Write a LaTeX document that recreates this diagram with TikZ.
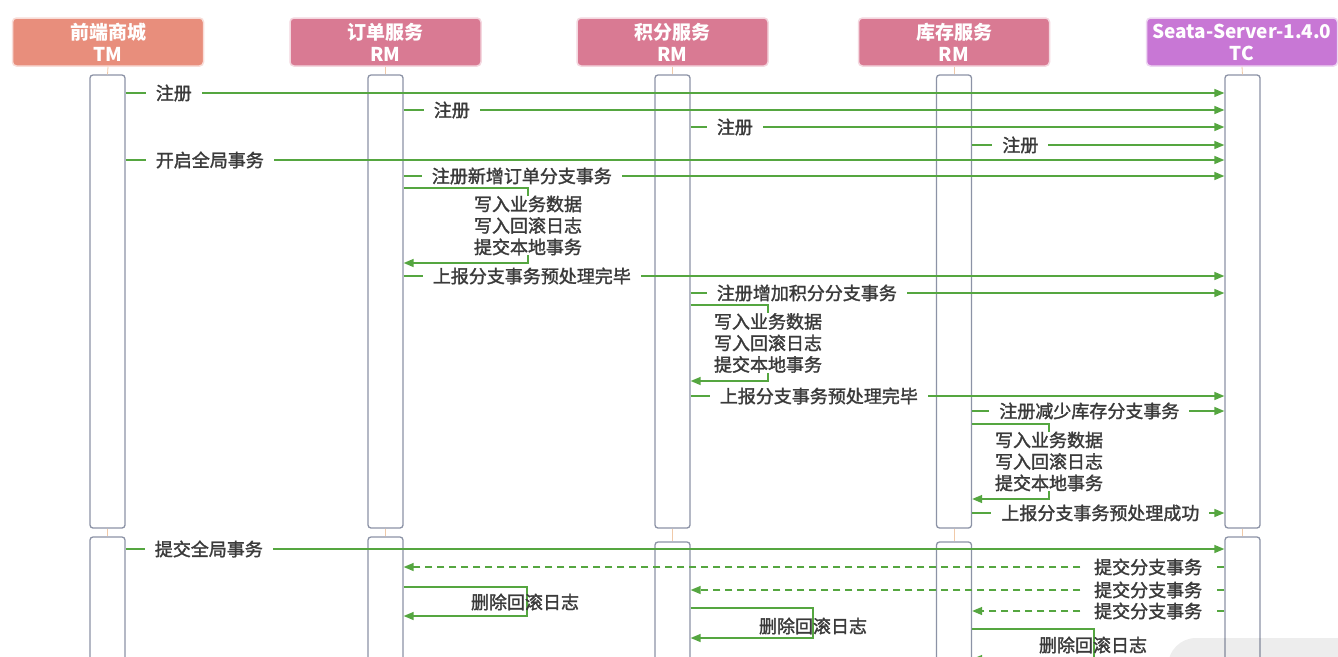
\documentclass[tikz,border=0pt]{standalone}
\usepackage{fontspec}
\setmainfont{Noto Sans CJK SC}
\newfontfamily\medfont{Noto Sans CJK SC}[FakeBold=1.6]
\usetikzlibrary{arrows.meta}
\definecolor{tmc}{HTML}{E88E7C}
\definecolor{rmc}{HTML}{D97A93}
\definecolor{tcc}{HTML}{C877D5}
\definecolor{lgreen}{HTML}{55A640}
\definecolor{boxc}{HTML}{8C93A6}
\definecolor{txt}{HTML}{3A3A3A}
\definecolor{lifec}{HTML}{F0C9A8}
\tikzset{
  hdr/.style={rounded corners=4pt, minimum width=191pt, minimum height=48pt, align=center, text=white, font=\bfseries\fontsize{19}{22}\selectfont, inner sep=0pt},
  act/.style={draw=boxc, line width=1.3pt, rounded corners=3pt, fill=white, minimum width=35pt, inner sep=0pt},
  msg/.style={draw=lgreen, line width=1.4pt, -{Triangle[length=10pt,width=8pt]}},
  ret/.style={msg, dash pattern=on 7pt off 5pt},
  lbl/.style={fill=white, inner xsep=10pt, inner ysep=1pt, text=txt, font=\medfont\fontsize{18}{21.5}\selectfont},
  stack/.style={fill=white, inner xsep=2pt, inner ysep=0pt, align=center, text=txt, font=\medfont\fontsize{18}{21.5}\selectfont},
  plainl/.style={inner sep=0pt, text=txt, font=\medfont\fontsize{18}{21.5}\selectfont},
  life/.style={draw=lifec, line width=0.8pt}
}
\begin{document}
\begin{tikzpicture}[x=1pt,y=-1pt]
\useasboundingbox (0,0) rectangle (1338,656);
\clip (0,0) rectangle (1338,656);
\fill[white] (0,0) rectangle (1338,656);
% headers
\node[hdr, fill=tmc, draw=tmc!30, line width=1.5pt] (hTM) at (108,42) {前端商城\\TM};
\node[hdr, fill=rmc, draw=rmc!30, line width=1.5pt] (hOR) at (385.5,42) {订单服务\\RM};
\node[hdr, fill=rmc, draw=rmc!30, line width=1.5pt] (hJF) at (672.5,42) {积分服务\\RM};
\node[hdr, fill=rmc, draw=rmc!30, line width=1.5pt] (hKC) at (954,42) {库存服务\\RM};
\node[hdr, fill=tcc, draw=tcc!30, line width=1.5pt] (hTC) at (1242,42) {Seata-Server-1.4.0\\TC};
% activation boxes
\node[act, minimum height=453pt] (aTM1) at (107.5,301.5) {};
\node[act, minimum height=453pt] (aOR1) at (385.5,301.5) {};
\node[act, minimum height=453pt] (aJF1) at (672.5,301.5) {};
\node[act, minimum height=453pt] (aKC1) at (954,301.5) {};
\node[act, minimum height=453pt] (aTC1) at (1242.5,301.5) {};
\node[act, minimum height=200pt] (aTM2) at (107.5,637) {};
\node[act, minimum height=200pt] (aOR2) at (385.5,637) {};
\node[act, minimum height=200pt] (aJF2) at (672.5,642) {};
\node[act, minimum height=200pt] (aKC2) at (954,642) {};
\node[act, minimum height=200pt] (aTC2) at (1242.5,637) {};
% lifelines
\foreach \n in {TM,OR,JF,KC,TC}{
  \draw[life] (h\n.south) -- (a\n1.north);
  \draw[life] (a\n1.south) -- (a\n2.north);
}
% y levels
\coordinate (y1) at (0,93);
\coordinate (y2) at (0,110);
\coordinate (y3) at (0,127);
\coordinate (y4) at (0,145);
\coordinate (y5) at (0,160);
\coordinate (y6) at (0,176);
\coordinate (y8) at (0,276);
\coordinate (y9) at (0,293);
\coordinate (y11) at (0,396);
\coordinate (y12) at (0,411);
\coordinate (y14) at (0,513);
\coordinate (y15) at (0,549);
\coordinate (y16) at (0,567);
\coordinate (y17) at (0,590);
\coordinate (y18) at (0,611);
% self-message corners
\coordinate (s1a) at (528,188); \coordinate (s1b) at (528,263);
\coordinate (s2a) at (768,305); \coordinate (s2b) at (768,381);
\coordinate (s3a) at (1049,424); \coordinate (s3b) at (1049,499);
\coordinate (d1a) at (527,587); \coordinate (d1b) at (527,616);
\coordinate (d2a) at (813,608); \coordinate (d2b) at (813,638);
\coordinate (d3a) at (1094,629); \coordinate (d3b) at (1094,659);
% messages
\draw[msg] (aTM1.east |- y1) -- (aTC1.west |- y1);
\node[lbl, anchor=west] (l1) at ([xshift=20pt]aTM1.east |- y1) {注册};
\draw[msg] (aOR1.east |- y2) -- (aTC1.west |- y2);
\node[lbl, anchor=west] (l2) at ([xshift=20pt]aOR1.east |- y2) {注册};
\draw[msg] (aJF1.east |- y3) -- (aTC1.west |- y3);
\node[lbl, anchor=west] (l3) at ([xshift=16pt]aJF1.east |- y3) {注册};
\draw[msg] (aKC1.east |- y4) -- (aTC1.west |- y4);
\node[lbl, anchor=west] (l4) at ([xshift=20pt]aKC1.east |- y4) {注册};
\draw[msg] (aTM1.east |- y5) -- (aTC1.west |- y5);
\node[lbl, anchor=west] (l5) at ([xshift=20pt]aTM1.east |- y5) {开启全局事务};
\draw[msg] (aOR1.east |- y6) -- (aTC1.west |- y6);
\node[lbl, anchor=west] (l6) at ([xshift=18pt]aOR1.east |- y6) {注册新增订单分支事务};
\draw[msg] (aOR1.east |- s1a) -- (s1a) -- (s1b) -- (aOR1.east |- s1b);
\node[stack] (l7) at (528,225.5) {写入业务数据\\写入回滚日志\\提交本地事务};
\draw[msg] (aOR1.east |- y8) -- (aTC1.west |- y8);
\node[lbl, anchor=west] (l8) at ([xshift=19pt]aOR1.east |- y8) {上报分支事务预处理完毕};
\draw[msg] (aJF1.east |- y9) -- (aTC1.west |- y9);
\node[lbl, anchor=west] (l9) at ([xshift=16pt]aJF1.east |- y9) {注册增加积分分支事务};
\draw[msg] (aJF1.east |- s2a) -- (s2a) -- (s2b) -- (aJF1.east |- s2b);
\node[stack] (l10) at (768,343) {写入业务数据\\写入回滚日志\\提交本地事务};
\draw[msg] (aJF1.east |- y11) -- (aTC1.west |- y11);
\node[lbl, anchor=west] (l11) at ([xshift=19pt]aJF1.east |- y11) {上报分支事务预处理完毕};
\draw[msg] (aKC1.east |- y12) -- (aTC1.west |- y12);
\node[lbl, anchor=west] (l12) at ([xshift=17pt]aKC1.east |- y12) {注册减少库存分支事务};
\draw[msg] (aKC1.east |- s3a) -- (s3a) -- (s3b) -- (aKC1.east |- s3b);
\node[stack] (l13) at (1049,461.5) {写入业务数据\\写入回滚日志\\提交本地事务};
\draw[msg] (aKC1.east |- y14) -- (aTC1.west |- y14);
\node[lbl, anchor=west] (l14) at ([xshift=19pt]aKC1.east |- y14) {上报分支事务预处理成功};
\draw[msg] (aTM2.east |- y15) -- (aTC2.west |- y15);
\node[lbl, anchor=west] (l15) at ([xshift=19pt]aTM2.east |- y15) {提交全局事务};
\draw[ret] (aTC2.west |- y16) -- (aOR2.east |- y16);
\node[lbl, anchor=east] (l16) at ([xshift=-12pt]aTC2.west |- y16) {提交分支事务};
\draw[ret] (aTC2.west |- y17) -- (aJF2.east |- y17);
\node[lbl, anchor=east] (l17) at ([xshift=-12pt]aTC2.west |- y17) {提交分支事务};
\draw[ret] (aTC2.west |- y18) -- (aKC2.east |- y18);
\node[lbl, anchor=east] (l18) at ([xshift=-12pt]aTC2.west |- y18) {提交分支事务};
\draw[msg] (aOR2.east |- d1a) -- (d1a) -- (d1b) -- (aOR2.east |- d1b);
\node[plainl] (l19) at (525,602) {删除回滚日志};
\draw[msg] (aJF2.east |- d2a) -- (d2a) -- (d2b) -- (aJF2.east |- d2b);
\node[plainl] (l20) at (813,626) {删除回滚日志};
\draw[msg] (aKC2.east |- d3a) -- (d3a) -- (d3b) -- (aKC2.east |- d3b);
\node[plainl] (l21) at (1093,645) {删除回滚日志};
% overlay in the corner
\fill[black, opacity=0.07, rounded corners=28pt] (1168,638) rectangle (1420,720);
\end{tikzpicture}
\end{document}
